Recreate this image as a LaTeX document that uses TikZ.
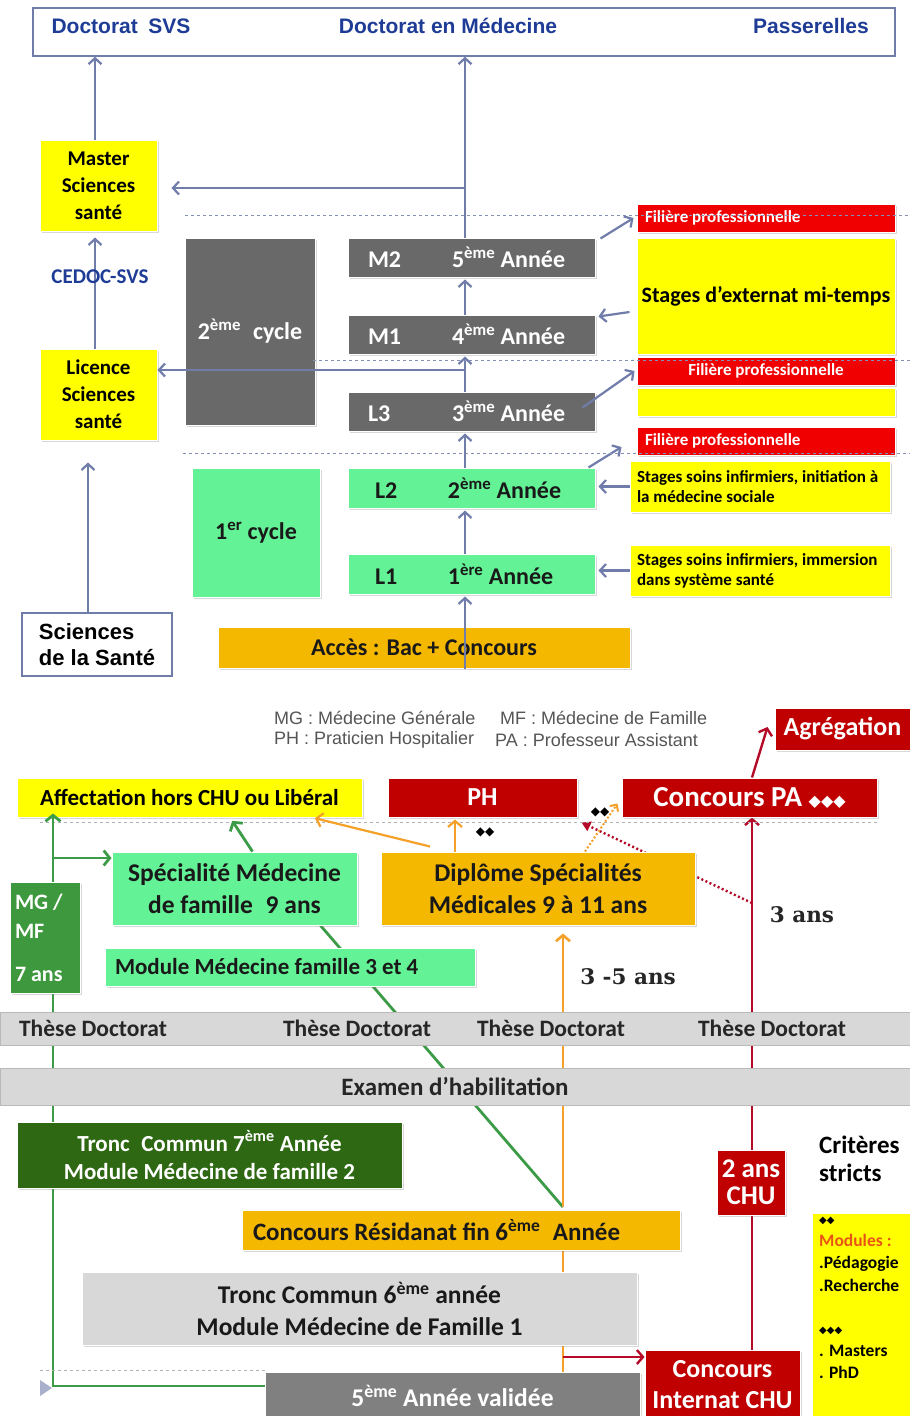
\documentclass[tikz,border=0pt]{standalone}
\usepackage{fontspec}
\setmainfont{Carlito}
\newfontfamily\arialfont{Liberation Sans}
\newfontfamily\symbfont{DejaVu Sans}
\newfontfamily\seriffont{DejaVu Serif}
\usepackage{tikz}
\usetikzlibrary{arrows.meta,shadows}
\pgfdeclarelayer{bg}
\pgfsetlayers{bg,main}

\definecolor{ardoise}{RGB}{112,124,170}
\definecolor{bleutxt}{RGB}{30,60,150}
\definecolor{jaune}{RGB}{255,255,0}
\definecolor{vertclair}{RGB}{100,242,150}
\definecolor{grisfonce}{RGB}{105,105,105}
\definecolor{rouge}{RGB}{240,0,0}
\definecolor{orangeb}{RGB}{245,184,0}
\definecolor{bordeaux}{RGB}{192,0,0}
\definecolor{vertmg}{RGB}{62,152,62}
\definecolor{vertfonce}{RGB}{46,104,18}
\definecolor{grisclair}{RGB}{216,216,216}
\definecolor{grismoyen}{RGB}{128,128,128}
\definecolor{vertligne}{RGB}{60,155,70}
\definecolor{orangel}{RGB}{245,160,40}
\definecolor{rougel}{RGB}{180,10,40}
\definecolor{legende}{RGB}{85,85,85}
\definecolor{modtxt}{RGB}{232,84,20}

\newcommand\expo[1]{\textsuperscript{#1}}
\newcommand\fsz[2]{\fontsize{#1}{#2}\selectfont}

\tikzset{
  bx/.style={draw=white, line width=1pt, inner sep=0pt, align=center,
    drop shadow={opacity=0.3,shadow xshift=1.5pt,shadow yshift=-2pt}},
  wh/.style 2 args={minimum width=#1, minimum height=#2},
  hd/.style={draw=ardoise, line width=1.4pt, fill=white},
  hdtxt/.style={text=bleutxt, font=\arialfont\bfseries\fsz{21}{24}},
  yel/.style={bx, fill=jaune, font=\bfseries\fsz{21}{27}},
  ysmall/.style={bx, fill=jaune, align=flush left, font=\bfseries\fsz{17}{20}},
  gbox/.style={bx, fill=grisfonce, text=white, font=\bfseries\fsz{24}{28}},
  vbox/.style={bx, fill=vertclair, text=black!90, font=\bfseries\fsz{24}{32}},
  obox/.style={bx, fill=orangeb, text=black!90, font=\bfseries\fsz{24}{32}},
  rbar/.style={bx, fill=rouge, text=white, align=flush left, font=\bfseries\fsz{17}{20}},
  rbox/.style={bx, fill=bordeaux, text=white, font=\bfseries\fsz{26}{31}},
  band/.style={draw=gray!55, line width=1pt, fill=grisclair, inner sep=0pt, text=black!85, font=\bfseries\fsz{23.5}{26}},
  arr/.style={draw=ardoise, line width=2.2pt, -{Straight Barb[length=6pt,width=13pt]}},
  sep/.style={draw=ardoise!85, dashed, line width=0.6pt},
  garr/.style={draw=vertligne, line width=2.8pt, -{Straight Barb[length=6pt,width=15pt]}},
  gline/.style={draw=vertligne, line width=2.8pt},
  oarr/.style={draw=orangel, line width=2.2pt, -{Straight Barb[length=6pt,width=14pt]}},
  oline/.style={draw=orangel, line width=2.6pt},
  rarr/.style={draw=rougel, line width=2.4pt, -{Straight Barb[length=6pt,width=14pt]}},
  rdot/.style={draw=rougel, line width=2.4pt, dash pattern=on 2pt off 2.5pt, -{Triangle[length=9pt,width=10pt]}},
  odot/.style={draw=orangel, line width=2pt, dash pattern=on 2pt off 2pt, -{Straight Barb[length=5pt,width=10pt]}},
  leg/.style={anchor=west, inner sep=0pt, text=legende, font=\arialfont\fsz{18}{20}},
  duree/.style={inner sep=0pt, text=black!85, font=\seriffont\bfseries\fsz{21.5}{24}},
  diam/.style={inner sep=0pt, font=\symbfont\fsz{12}{12}},
}

\begin{document}
\begin{tikzpicture}[x=1pt, y=-1pt]
  %%%%% START %%%%%
  \useasboundingbox (0,0) rectangle (910,1416);
  \begin{pgfonlayer}{bg}
    \fill[white] (0,0) rectangle (910,1416);
  \end{pgfonlayer}

  % haut : LMD
  \node[hd, wh={862}{48}] (head) at (464,32) {};
  \node[hdtxt] (hsvs) at (121,26) {Doctorat\enspace SVS};
  \node[hdtxt] (hmed) at (448,26) {Doctorat en Médecine};
  \node[hdtxt] (hpas) at (811,26) {Passerelles};

  \node[yel, wh={117}{91}] (master) at (98.5,185.5) {Master\\Sciences\\santé};
  \node[yel, wh={117}{91}] (licence) at (98.5,394.5) {Licence\\Sciences\\santé};
  \node[hd, wh={150}{63}, inner sep=0pt, align=flush left, font=\arialfont\bfseries\fsz{22}{26}] (sante) at (97,644.5) {Sciences\\de la Santé};

  \node[gbox, wh={130}{187}] (cyc2) at (250,331.5) {2\expo{ème}\enspace cycle};
  \node[gbox, wh={247}{39}, text width=207, align=flush left] (m2) at (471.5,257.5) {\makebox[84pt][l]{M2}5\expo{ème} Année};
  \node[gbox, wh={247}{39}, text width=207, align=flush left] (m1) at (471.5,334.5) {\makebox[84pt][l]{M1}4\expo{ème} Année};
  \node[gbox, wh={247}{39}, text width=207, align=flush left] (l3) at (471.5,411.5) {\makebox[84pt][l]{L3}3\expo{ème} Année};
  \node[vbox, wh={247}{40}, text width=193, align=flush left] (l2) at (471.5,488) {\makebox[73pt][l]{L2}2\expo{ème} Année};
  \node[vbox, wh={247}{40}, text width=193, align=flush left] (l1) at (471.5,574) {\makebox[73pt][l]{L1}1\expo{ère} Année};
  \node[vbox, wh={128}{129}] (cyc1) at (256,532.5) {1\expo{er} cycle};
  \node[obox, wh={412}{41}] (acces) at (424,647.5) {Accès : Bac + Concours};

  \node[rbar, wh={258}{28}, text width=242] (fil1) at (766,218) {Filière professionnelle};
  \node[yel, wh={258}{116}, font=\bfseries\fsz{22}{27}] (ext) at (766,296) {Stages d’externat mi-temps};
  \node[rbar, wh={258}{28}, align=center] (fil2) at (766,371) {Filière professionnelle};
  \node[yel, wh={258}{28}] (yel2) at (766,402) {};
  \node[rbar, wh={258}{28}, text width=242] (fil3) at (766,441) {Filière professionnelle};
  \node[ysmall, wh={260}{51}, text width=246] (inf1) at (760,486.5) {Stages soins infirmiers, initiation à\\la médecine sociale};
  \node[ysmall, wh={260}{51}, text width=246] (inf2) at (760,570.5) {Stages soins infirmiers, immersion\\dans système santé};

  \coordinate (ax) at (465,0);
  \coordinate (mh) at (465,188);
  \coordinate (lh) at (465,370);
  \draw[arr] ([xshift=-3.5pt]master.north) -- ([xshift=-3.5pt]master.north |- head.south);
  \draw[arr] (m2.north -| ax) -- (head.south -| ax);
  \draw[arr, shorten >=14pt] (mh) -- (mh -| master.east);
  \draw[arr, shorten >=2pt] (m1.north -| ax) -- (m2.south -| ax);
  \draw[arr, shorten >=2pt] (l3.north -| ax) -- (m1.south -| ax);
  \draw[arr, shorten >=2pt] (l2.north -| ax) -- (l3.south -| ax);
  \draw[arr, shorten >=2pt] (l1.north -| ax) -- (l2.south -| ax);
  \draw[arr, shorten >=2pt] (acces.south -| ax) -- (l1.south -| ax);
  \draw[arr] (lh) -- (lh -| licence.east);
  \draw[arr, shorten >=6pt] ([xshift=-3.5pt]licence.north) -- ([xshift=-3.5pt]master.south);
  \draw[arr, shorten >=22pt] ([xshift=-9pt]sante.north) -- ([xshift=-10.5pt]licence.south);
  \node[inner sep=0pt, text=bleutxt, font=\bfseries\fsz{21}{22}] (cedoc) at (100,277) {CEDOC-SVS};

  \draw[arr] ([shift={(5,1)}]m2.north east) -- ([xshift=-3pt]fil1.west);
  \draw[arr] ([shift={(-7,16)}]ext.west) -- ([shift={(3,-18)}]m1.east);
  \draw[arr] ([shift={(-13,-4)}]l3.east) -- ([xshift=-2pt]fil2.west);
  \draw[arr] ([xshift=-7pt]l2.north east) -- ([shift={(-15,6)}]fil3.west);
  \draw[arr, shorten >=3pt] (inf1.west) -- (inf1.west -| l2.east);
  \draw[arr, shorten >=3pt] (inf2.west) -- (inf2.west -| l1.east);

  \draw[sep] (185,215) -- (910,215);
  \draw[sep] (313,360) -- (910,360);
  \draw[sep] (183,453) -- (910,453);

  % bas : parcours
  \node[leg] (lmg) at (274,718) {MG : Médecine Générale};
  \node[leg] (lph) at (274,740) {PH : Praticien Hospitalier};
  \node[leg] (lmf) at (500,718) {MF : Médecine de Famille};
  \node[leg] (lpa) at (495,740) {PA : Professeur Assistant};

  \node[rbox, wh={135}{42}] (agreg) at (842.5,729) {Agrégation};
  \node[yel, wh={345}{39}, font=\bfseries\fsz{23}{26}] (affect) at (189.5,797.5) {Affectation hors CHU ou Libéral};
  \node[rbox, wh={189}{39}] (ph) at (482.5,797.5) {PH};
  \node[rbox, wh={255}{39}, font=\bfseries\fsz{29}{30}] (cpa) at (749.5,797.5) {Concours PA {\symbfont\fsz{16}{16}◆◆◆}};
  \draw[sep, draw=gray!60] (40,822) -- (880,822);

  \node[bx, fill=vertmg, text=white, wh={70}{111}, text width=60, align=flush left, font=\bfseries\fsz{22}{29}] (mgmf) at (45,937.5) {MG /\\MF\\[14pt]7 ans};
  \node[vbox, wh={245}{73}, font=\bfseries\fsz{25.5}{32}] (spec) at (234.5,888.5) {Spécialité Médecine\\de famille\enspace 9 ans};
  \node[vbox, wh={370}{38}, text width=350, align=flush left, font=\bfseries\fsz{23}{26}] (module) at (290,967) {Module Médecine famille 3 et 4};
  \node[obox, wh={314}{73}, font=\bfseries\fsz{25.5}{32}] (diplome) at (538,888.5) {Diplôme Spécialités\\Médicales 9 à 11 ans};

  \node[band, wh={910}{33}] (these) at (455,1028.5) {};
  \node[band, draw=none, fill=none] (t1) at (93,1028) {Thèse Doctorat};
  \node[band, draw=none, fill=none] (t2) at (357,1028) {Thèse Doctorat};
  \node[band, draw=none, fill=none] (t3) at (551,1028) {Thèse Doctorat};
  \node[band, draw=none, fill=none] (t4) at (772,1028) {Thèse Doctorat};
  \node[band, wh={910}{37}, font=\bfseries\fsz{25}{26}] (examen) at (455,1086.5) {Examen d’habilitation};

  \node[bx, fill=vertfonce, text=white, wh={385}{66}, font=\bfseries\fsz{23}{28}] (tronc7) at (209.5,1155) {Tronc\enspace Commun 7\expo{ème} Année\\Module Médecine de famille 2};
  \node[rbox, wh={68}{65}, font=\bfseries\fsz{27}{27}] (chu2) at (751,1182.5) {2 ans\\CHU};
  \node[anchor=north west, inner sep=0pt, align=flush left, font=\bfseries\fsz{25}{28}] (crit) at (819,1136) {Critères\\stricts};
  \node[bx, fill=jaune, wh={98}{203}] (critbox) at (861,1314.5) {};
  \node[anchor=north west, inner sep=0pt, align=flush left, font=\bfseries\fsz{17.5}{22.5}] (critxt) at (819,1217) {{\symbfont\fsz{10}{10}◆◆}\\\textcolor{modtxt}{Modules :}\\.Pédagogie\\.Recherche\\[20pt]{\symbfont\fsz{10}{10}◆◆◆}\\. Masters\\. PhD};

  \node[obox, wh={438}{40}, text width=416, align=flush left, font=\bfseries\fsz{25}{26}] (resid) at (461,1230) {Concours Résidanat fin 6\expo{ème}\enspace Année};
  \node[bx, fill=grisclair, wh={555}{73}, text=black!90, font=\bfseries\fsz{25.5}{32}] (tronc6) at (359.5,1308.5) {Tronc Commun 6\expo{ème} année\\Module Médecine de Famille 1};
  \node[bx, fill=grismoyen, wh={375}{48}, text=white, font=\bfseries\fsz{25.5}{28}] (annee5) at (452.5,1396) {5\expo{ème} Année validée};
  \node[rbox, wh={155}{70}] (internat) at (722.5,1385) {Concours\\Internat CHU};

  \draw[sep, draw=gray!60] (40,1370) -- (265,1370);
  \fill[ardoise!60] (40,1380) -- (52,1388) -- (40,1396) -- cycle;

  \coordinate (gb) at (53,858);
  \coordinate (ro) at (563,1207);
  \coordinate (oc) at (563,1357);
  \coordinate (rd) at (752,903);
  \begin{pgfonlayer}{bg}
    \draw[gline] ([xshift=8pt]mgmf.south) -- ([xshift=8pt]mgmf.south |- tronc7.north);
    \draw[gline] ([xshift=-156.5pt]tronc7.south) |- ([yshift=10pt]annee5.west);
    \draw[gline] (ro) -- ([xshift=86pt]spec.south);
    \draw[oarr, line width=2.6pt, shorten >=8pt] (ro) -- (ro |- diplome.south);
    \draw[oline] ([xshift=110.5pt]annee5.north) -- ([xshift=110.5pt]annee5.north |- resid.south);
    \draw[rarr] ([xshift=29.5pt]internat.north) -- ([xshift=2.5pt]cpa.south);
    \draw[rdot] (rd) -- ([shift={(4,5)}]ph.south east);
  \end{pgfonlayer}

  \draw[garr, shorten >=-4pt] ([xshift=8pt]mgmf.north) -- ([xshift=8pt]mgmf.north |- affect.south);
  \draw[garr] (gb) -- (gb -| spec.west);
  \draw[garr, shorten >=4pt] ([xshift=18pt]spec.north) -- ([xshift=40.5pt]affect.south);
  \draw[oarr, shorten >=2pt] ([xshift=-83pt]diplome.north) -- ([xshift=-27.5pt]ph.south);
  \draw[oarr, shorten >=3pt] ([shift={(-108,-5)}]diplome.north) -- ([xshift=122.5pt]affect.south);
  \draw[odot] ([xshift=47pt]diplome.north) -- ([shift={(-4,-14)}]cpa.south west);
  \draw[rarr] ([xshift=2.5pt]cpa.north) -- ([shift={(-7,-2)}]agreg.west);
  \draw[rarr] (oc) -- (oc -| internat.west);

  \node[diam] (dph) at (485,832) {◆◆};
  \node[diam] (dpa) at (600,812) {◆◆};
  \node[duree] (d35) at (628,977) {3 -5 ans};
  \node[duree] (d3) at (802,915) {3 ans};
  %%%%% END %%%%%
\end{tikzpicture}
\end{document}
